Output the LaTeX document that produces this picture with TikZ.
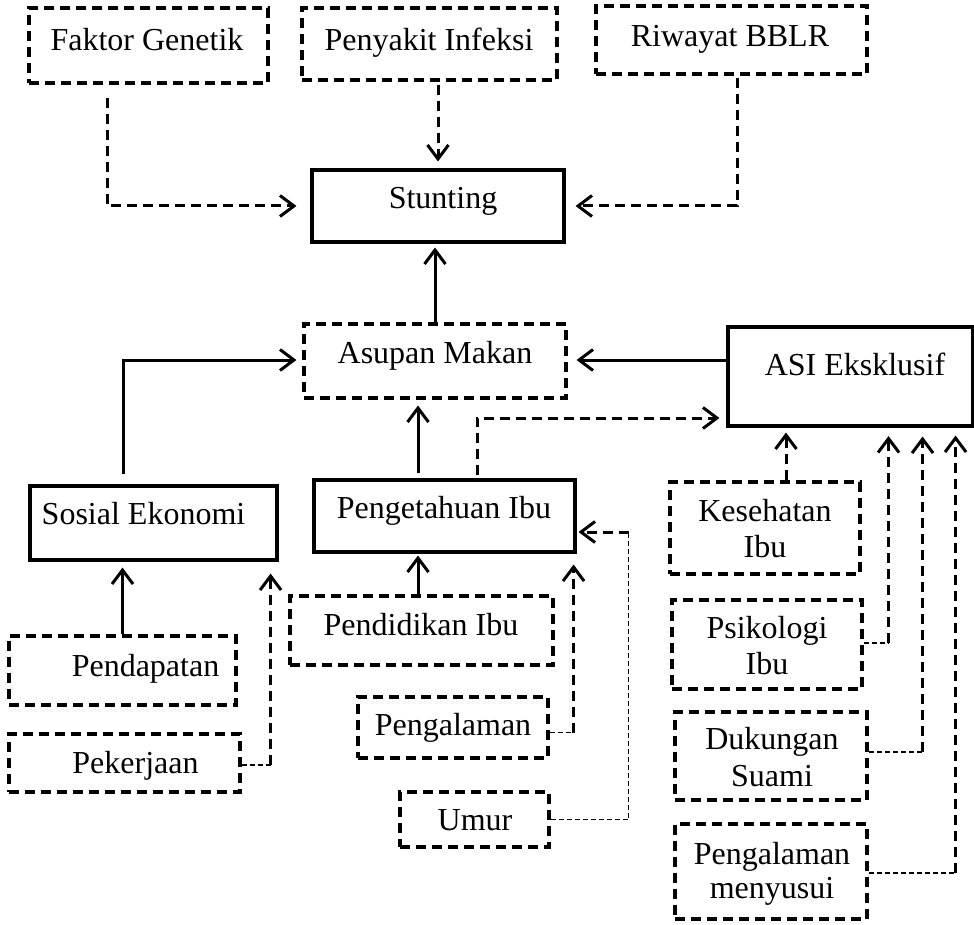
\documentclass[tikz,border=0pt]{standalone}
\usepackage{fontspec}
\setmainfont{Liberation Serif}
\usetikzlibrary{arrows.meta,calc}
\begin{document}
\begin{tikzpicture}[x=1pt,y=-1pt,
  sbox/.style={draw,line width=3.1pt,inner sep=0pt},
  dbox/.style={draw,line width=3.1pt,inner sep=0pt,dash pattern=on 10pt off 6pt},
  txt/.style={font=\fontsize{32}{38}\selectfont,anchor=base,inner sep=0pt},
  sol/.style={line width=3pt},
  dsh/.style={line width=3pt,dash pattern=on 10pt off 6pt},
  thd/.style={line width=1.5pt,dash pattern=on 5pt off 3pt},
  >={Straight Barb[length=14pt,width=21pt]}
]
\useasboundingbox (0,0) rectangle (974,925);
% boxes
\node[dbox,minimum width=239pt,minimum height=75pt] (fg) at (148.5,45.5) {};
\node[dbox,minimum width=255pt,minimum height=72pt] (pi) at (429.5,44) {};
\node[dbox,minimum width=271pt,minimum height=68pt] (rb) at (731.5,40) {};
\node[sbox,minimum width=252pt,minimum height=72pt] (st) at (438,206) {};
\node[dbox,minimum width=262pt,minimum height=74pt] (am) at (435,361) {};
\node[sbox,minimum width=245pt,minimum height=99pt] (asi) at (850.5,376.5) {};
\node[sbox,minimum width=247pt,minimum height=74pt] (se) at (153.5,523) {};
\node[sbox,minimum width=261pt,minimum height=72pt] (pk) at (444.5,516) {};
\node[dbox,minimum width=190pt,minimum height=92pt] (kes) at (765,528) {};
\node[dbox,minimum width=190pt,minimum height=89pt] (psi) at (767,644.5) {};
\node[dbox,minimum width=192pt,minimum height=88pt] (dks) at (771,756) {};
\node[dbox,minimum width=192pt,minimum height=95pt] (pms) at (771,871.5) {};
\node[dbox,minimum width=263pt,minimum height=69pt] (pdi) at (421.5,630.5) {};
\node[dbox,minimum width=227pt,minimum height=69pt] (pdp) at (122.5,670.5) {};
\node[dbox,minimum width=231pt,minimum height=58pt] (pkj) at (124.5,763) {};
\node[dbox,minimum width=190pt,minimum height=61pt] (pgl) at (453,727.5) {};
\node[dbox,minimum width=149pt,minimum height=55pt] (um) at (474.5,819.5) {};
% texts
\node[txt] (tfg) at (147,51) {Faktor Genetik};
\node[txt] (tpi) at (429,51) {Penyakit Infeksi};
\node[txt] (trb) at (730,47) {Riwayat BBLR};
\node[txt] (tst) at (443,209) {Stunting};
\node[txt] (tam) at (435,363) {Asupan Makan};
\node[txt] (tasi) at (855,375) {ASI Eksklusif};
\node[txt] (tse) at (143.5,524) {Sosial Ekonomi};
\node[txt] (tpk) at (444,518) {Pengetahuan Ibu};
\node[txt] (tkes1) at (765,521) {Kesehatan};
\node[txt] (tkes2) at (765,557) {Ibu};
\node[txt] (tpsi1) at (767,638) {Psikologi};
\node[txt] (tpsi2) at (767,674) {Ibu};
\node[txt] (tdks1) at (772,749) {Dukungan};
\node[txt] (tdks2) at (772,786) {Suami};
\node[txt] (tpms1) at (772,864) {Pengalaman};
\node[txt] (tpms2) at (772,898) {menyusui};
\node[txt] (tpdi) at (421,635) {Pendidikan Ibu};
\node[txt] (tpdp) at (145.5,676) {Pendapatan};
\node[txt] (tpkj) at (135.5,773) {Pekerjaan};
\node[txt] (tpgl) at (453,735) {Pengalaman};
\node[txt] (tum) at (475,830) {Umur};
% connectors to Stunting
\draw[dsh,->] ($(fg.south)+(-41.5,13)$) |- ($(st.west)+(-14,0)$);
\draw[dsh,->] ($(pi.south)+(8.5,3)$) -- ($(st.north)+(0,-7)$);
\draw[dsh,->] ($(rb.south)+(5.5,2)$) |- ($(st.east)+(10,0)$);
\draw[sol,->,shorten >=4pt] (am.north) -- (am.north |- st.south);
% to Asupan Makan
\draw[sol,->] ($(se.north)+(-30.5,-10)$) |- ($(am.west)+(-6,-1)$);
\draw[sol,->,shorten >=9pt] ($(asi.west)+(0,-16.5)$) -- ($(am.east)+(0,-1)$);
\draw[sol,->] ($(pk.north)+(-26.5,-5)$) -- ($(am.south)+(-17,6)$);
\draw[dsh,->] ($(pk.north)+(32.5,-3)$) |- ($(asi.west)+(-7,41.5)$);
% to Sosial Ekonomi
\draw[sol,->,shorten >=6pt] (pdp.north) -- (pdp.north |- se.south);
\draw[thd] ($(pkj.east)+(0,2)$) -- ++(29,0) coordinate (pkjc);
\draw[dsh,->,shorten >=12pt] (pkjc) -- (pkjc |- se.south);
% to Pengetahuan Ibu
\draw[sol,->] ($(pdi.north)+(-3.5,0)$) -- ($(pk.south)+(-26.5,2)$);
\draw[thd] ($(pgl.east)+(0,5)$) -- ++(24,0) coordinate (pglc);
\draw[dsh,->,shorten >=11pt] (pglc) -- (pglc |- pk.south);
\draw[thd] (um.east) -| ($(pk.east)+(52,16)$) coordinate (umc);
\draw[dsh,->] (umc) -- ($(pk.east)+(2,16)$);
% to ASI Eksklusif
\draw[dsh,->] ($(kes.north)+(21,0)$) -- ($(asi.south)+(-64.5,5)$);
\draw[thd] ($(psi.east)+(0,-1.5)$) -- ++(25,0) coordinate (psic);
\draw[dsh,->,shorten >=8.5pt] (psic) -- (psic |- asi.south);
\draw[thd] ($(dks.east)+(0,-4)$) -- ++(54,0) coordinate (dksc);
\draw[dsh,->,shorten >=9pt] (dksc) -- (dksc |- asi.south);
\draw[thd] ($(pms.east)+(0,1.5)$) -- ++(87,0) coordinate (pmsc);
\draw[dsh,->,shorten >=8pt] (pmsc) -- (pmsc |- asi.south);
\end{tikzpicture}
\end{document}
